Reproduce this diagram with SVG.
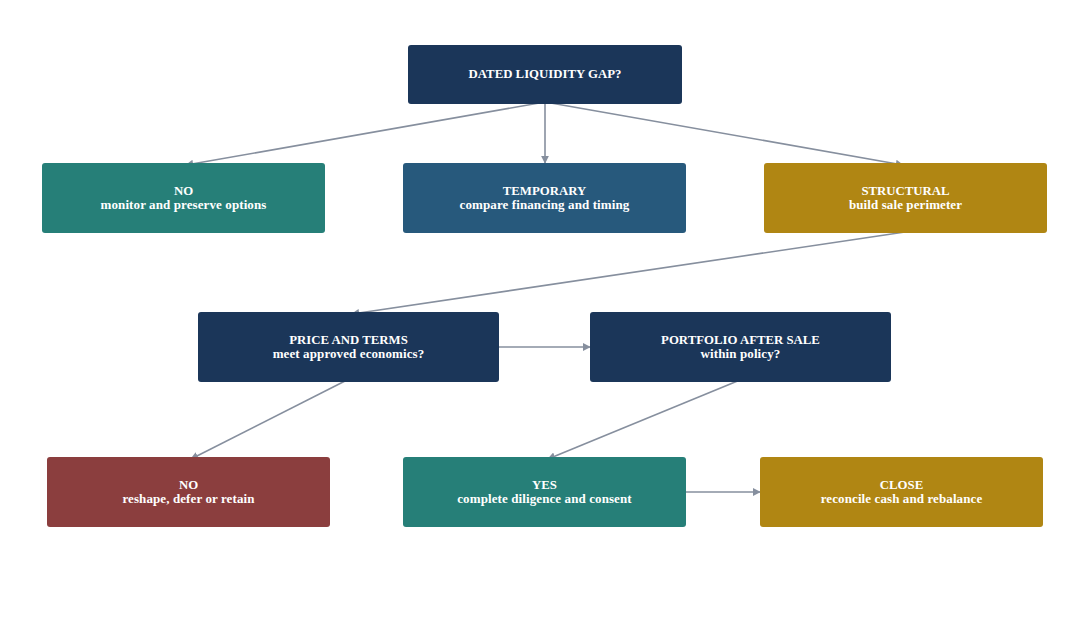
<svg xmlns="http://www.w3.org/2000/svg" width="1090" height="630" viewBox="0 0 1090 630">
<style>
.t{font-family:"Liberation Serif","DejaVu Serif",serif;font-weight:bold;fill:#ffffff;text-anchor:middle}
.h{font-size:12.8px}
.s{font-size:13px;letter-spacing:0.1px}
.c{stroke:#868f9e;stroke-width:1.6;fill:none;marker-end:url(#a)}
</style>
<defs>
<marker id="a" viewBox="0 0 10 10" refX="9" refY="5" markerWidth="8" markerHeight="8" orient="auto" markerUnits="userSpaceOnUse"><path d="M0,0 L10,5 L0,10 z" fill="#868f9e"/></marker>
</defs>
<rect width="1090" height="630" fill="#ffffff"/>
<g id="connectors">
<line class="c" x1="545" y1="102" x2="186" y2="165"/>
<line class="c" x1="545" y1="102" x2="545" y2="163"/>
<line class="c" x1="545" y1="102" x2="903" y2="165"/>
<line class="c" x1="905" y1="232" x2="352" y2="314"/>
<line class="c" x1="499" y1="347" x2="590" y2="347"/>
<line class="c" x1="347" y1="380" x2="191" y2="459"/>
<line class="c" x1="740" y1="380" x2="548" y2="459"/>
<line class="c" x1="686" y1="492" x2="760" y2="492"/>
</g>
<g id="gap"><rect x="408" y="45" width="274" height="59" rx="3" fill="#1b3659"/><text class="t h" x="545" y="77.5">DATED LIQUIDITY GAP?</text></g>
<g id="no1"><rect x="42" y="163" width="283" height="70" rx="3" fill="#267f78"/><text class="t h" x="183.5" y="194.5">NO</text><text class="t s" x="183.5" y="208.5">monitor and preserve options</text></g>
<g id="temporary"><rect x="403" y="163" width="283" height="70" rx="3" fill="#27597c"/><text class="t h" x="544.5" y="194.5">TEMPORARY</text><text class="t s" x="544.5" y="208.5">compare financing and timing</text></g>
<g id="structural"><rect x="764" y="163" width="283" height="70" rx="3" fill="#b08613"/><text class="t h" x="905.5" y="194.5">STRUCTURAL</text><text class="t s" x="905.5" y="208.5">build sale perimeter</text></g>
<g id="price"><rect x="198" y="312" width="301" height="70" rx="3" fill="#1b3659"/><text class="t h" x="348.5" y="343.5">PRICE AND TERMS</text><text class="t s" x="348.5" y="357.5">meet approved economics?</text></g>
<g id="portfolio"><rect x="590" y="312" width="301" height="70" rx="3" fill="#1b3659"/><text class="t h" x="740.5" y="343.5">PORTFOLIO AFTER SALE</text><text class="t s" x="740.5" y="357.5">within policy?</text></g>
<g id="no2"><rect x="47" y="457" width="283" height="70" rx="3" fill="#8b3e3e"/><text class="t h" x="188.5" y="488.5">NO</text><text class="t s" x="188.5" y="502.5">reshape, defer or retain</text></g>
<g id="yes"><rect x="403" y="457" width="283" height="70" rx="3" fill="#267f78"/><text class="t h" x="544.5" y="488.5">YES</text><text class="t s" x="544.5" y="502.5">complete diligence and consent</text></g>
<g id="close"><rect x="760" y="457" width="283" height="70" rx="3" fill="#b08613"/><text class="t h" x="901.5" y="488.5">CLOSE</text><text class="t s" x="901.5" y="502.5">reconcile cash and rebalance</text></g>
</svg>
